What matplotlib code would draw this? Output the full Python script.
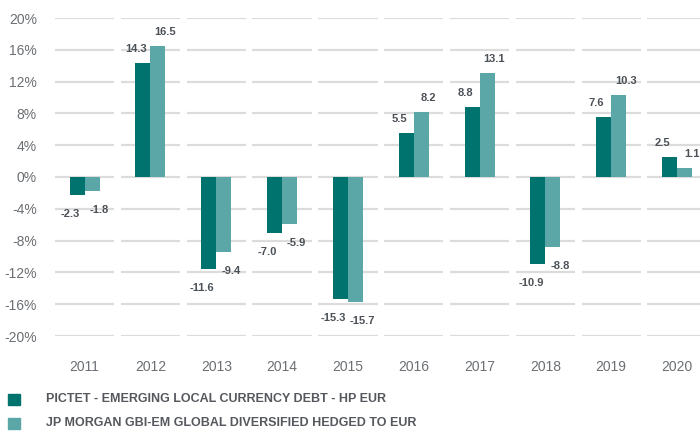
import matplotlib.pyplot as plt
import matplotlib.transforms as mtransforms
import numpy as np

plt.rcParams['font.family'] = ['Liberation Sans', 'DejaVu Sans']

years = ['2011', '2012', '2013', '2014', '2015', '2016', '2017', '2018', '2019', '2020']
fund = [-2.3, 14.3, -11.6, -7.0, -15.3, 5.5, 8.8, -10.9, 7.6, 2.5]
bench = [-1.8, 16.5, -9.4, -5.9, -15.7, 8.2, 13.1, -8.8, 10.3, 1.1]
fund_name = 'PICTET - EMERGING LOCAL CURRENCY DEBT - HP EUR'
bench_name = 'JP MORGAN GBI-EM GLOBAL DIVERSIFIED HEDGED TO EUR'
yticks = [-20, -16, -12, -8, -4, 0, 4, 8, 12, 16, 20]

dark = '#00736f'
light = '#5ba7a7'
txt = '#4b5157'

fig = plt.figure(figsize=(7, 4.32), dpi=100)
ax = fig.add_axes([55 / 700, 1 - 336 / 432, 645 / 700, 318 / 432])

x = np.arange(len(years))
w = 0.228
ax.bar(x - w / 2, fund, w, color=dark, zorder=3)
ax.bar(x + w / 2, bench, w, color=light, zorder=3)

# broken gridlines, one segment per category
for yv in yticks:
    ax.hlines([yv] * len(x), x - 0.45, x + 0.45, color='#dcdcdc', lw=1.6, zorder=1)

# value labels
for i in range(len(x)):
    for val, dx in ((fund[i], -7), (bench[i], 7)):
        xo = x[i] - w / 2 if dx < 0 else x[i] + w / 2
        dy = 14 if val >= 0 else -19
        tr = mtransforms.offset_copy(ax.transData, fig=fig, x=dx, y=dy, units='dots')
        ax.text(xo, val, f'{val:.1f}', transform=tr, ha='center', va='center',
                fontsize=8, fontweight='bold', color=txt)

ax.set_xlim(-0.45, 9.35)
ax.set_ylim(-20, 20)
ax.set_yticks(yticks)
ax.set_yticklabels([f'{v}%' for v in yticks])
ax.set_xticks(x)
ax.set_xticklabels(years)
ax.tick_params(axis='both', length=0, labelsize=10, labelcolor='#6b6f73')
ax.tick_params(axis='y', pad=13)
ax.tick_params(axis='x', pad=17)
for s in ax.spines.values():
    s.set_visible(False)

# legend
for yy, col, name in ((399, dark, fund_name), (423, light, bench_name)):
    fig.patches.append(plt.Rectangle((8 / 700, 1 - (yy + 5.5) / 432), 12 / 700, 11 / 432,
                                     transform=fig.transFigure, color=col))
    fig.text(46 / 700, 1 - yy / 432, name, ha='left', va='center', fontsize=9,
             fontweight='bold', color='#55595e')

fig.savefig('out.png', dpi=100)
